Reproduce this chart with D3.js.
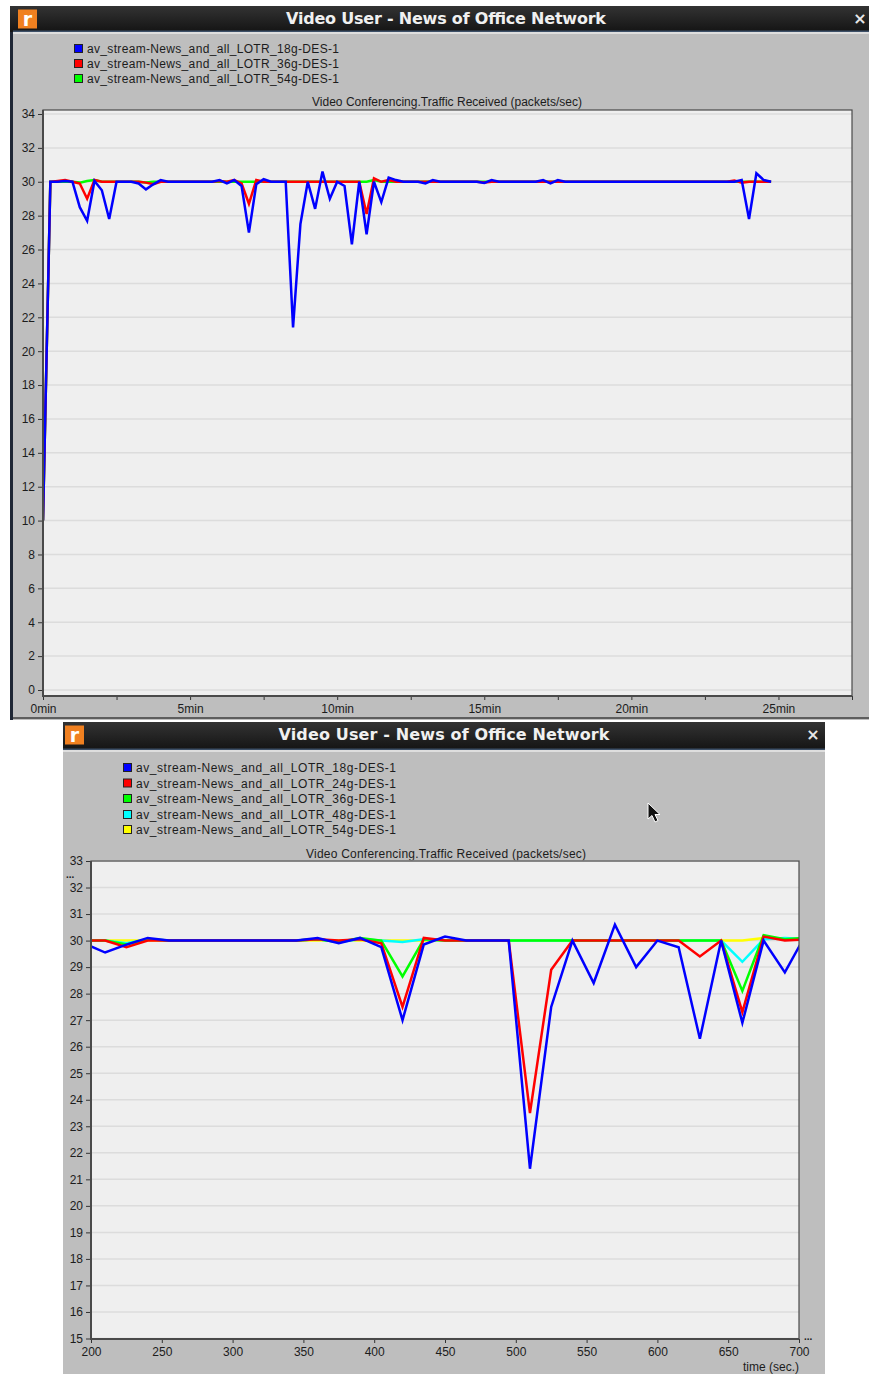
<!DOCTYPE html>
<html>
<head>
<meta charset="utf-8">
<title>Video User - News of Office Network</title>
<script src="https://d3js.org/d3.v7.min.js"></script>
<style>
  html, body { margin: 0; padding: 0; background: #fff; }
  svg { display: block; }
  text { font-family: "Liberation Sans", sans-serif; fill: #1c1c1c; }
</style>
</head>
<body>
<div id="chart"></div>
<script>
// Window title and chart title shared by both captures
const windowTitle = 'Video User - News of Office Network';
const chartTitle = 'Video Conferencing.Traffic Received (packets/sec)';

// Upper chart: whole run, one sample every 15 sec
const fullTime = [0,15,30,45,60,75,90,105,120,135,150,165,180,195,210,225,240,255,270,285,
  300,315,330,345,360,375,390,405,420,435,450,465,480,495,510,525,540,555,570,585,
  600,615,630,645,660,675,690,705,720,735,750,765,780,795,810,825,840,855,870,885,
  900,915,930,945,960,975,990,1005,1020,1035,1050,1065,1080,1095,1110,1125,1140,1155,1170,1185,
  1200,1215,1230,1245,1260,1275,1290,1305,1320,1335,1350,1365,1380,1395,1410,1425,1440,1455,1470,1485];
const full18g = [10,30,30,30.05,30,28.5,27.7,30.05,29.5,27.8,30,30,30,29.9,29.55,29.85,30.1,30,30,30,
  30,30,30,30,30.1,29.9,30.1,29.75,27,29.85,30.15,30,30,30,21.4,27.5,30,28.4,30.6,29,
  30,29.75,26.3,30,26.9,30,28.8,30.25,30.1,30,30,30,29.9,30.1,30,30,30,30,30,30,
  29.93,30.1,30,30,30,30,30,30,30.1,29.9,30.1,30,30,30,30,30,30,30,30,30,
  30,30,30,30,30,30,30,30,30,30,30,30,30,30,30,30.1,27.8,30.5,30.1,30];
const full36g = [10,30,30.05,30.1,30,29.9,29,30.1,30,30,30,30,30,30,29.95,29.85,30,30,30,30,
  30,30,30,30,30.05,30,30.1,29.9,28.7,30.1,30,30,30,30,30,30,30,30,30,30,
  30,30,30,30,28.1,30.2,30,30.1,30,30,30,30,30,30,30,30,30,30,30,30,
  29.95,30,30,30,30,30,30,30,30,30,30,30,30,30,30,30,30,30,30,30,
  30,30,30,30,30,30,30,30,30,30,30,30,30,30,30.08,29.95,30,30,30,30];
const full54g = [10,30,30,30,30,29.95,30.05,30.1,30,30,30,30,30,30,29.95,30,30,30,30,30,
  30,30,30,30,30,30,30,30,30,30,30,30,30,30,30,30,30,30,30,30,
  30,30,30,30,30,30.1,30,30,30,30,30,30,30,30,30,30,30,30,30,30,
  30,30,30,30,30,30,30,30,30,30,30,30,30,30,30,30,30,30,30,30,
  30,30,30,30,30,30,30,30,30,30,30,30,30,30,30,30,30,30,30,30];
const fullYTicks = [0,2,4,6,8,10,12,14,16,18,20,22,24,26,28,30,32,34];
const fullXTicks = [0,150,300,450,600,750,900,1050,1200,1350,1500,1650];
const fullXLabels = ['0min','','5min','','10min','','15min','','20min','','25min',''];

// Lower chart: zoom on 200-700 sec
const zoomTime = [195,210,225,240,255,270,285,300,315,330,345,360,375,390,405,420,435,450,465,480,
  495,510,525,540,555,570,585,600,615,630,645,660,675,690,705];
const zoom18g = [29.9,29.55,29.85,30.1,30,30,30,30,30,30,30,30.1,29.9,30.1,29.75,27,29.85,30.15,30,30,
  30,21.4,27.5,30,28.4,30.6,29,30,29.75,26.3,30,26.9,30,28.8,30.25];
const zoom24g = [30,30,29.75,30,30,30,30,30,30,30,30,30.05,30,30.05,29.9,27.5,30.1,30,30,30,
  30,23.5,28.9,30,30,30,30,30,30,29.4,30,27.3,30.15,30,30.05];
const zoom36g = [30,30,29.85,30.05,30,30,30,30,30,30,30,30.05,29.95,30.1,30,28.65,30.05,30,30,30,
  30,30,30,30,30,30,30,30,30,30,30,28.1,30.2,30.05,30.1];
const zoom48g = [30,30,29.9,30.05,30,30,30,30,30,30,30,30.05,29.95,30.05,30,29.95,30.05,30,30,30,
  30,30,30,30,30,30,30,30,30,30,30,29.2,30.05,30.1,30.05];
const zoom54g = [30,30,30,30,30,30,30,30,30,30,30,30,30,30,30,30,30,30,30,30,
  30,30,30,30,30,30,30,30,30,30,30,30,30.1,30.05,30.05];
const zoomYTicks = [15,16,17,18,19,20,21,22,23,24,25,26,27,28,29,30,31,32,33];
const zoomXTicks = [200,250,300,350,400,450,500,550,600,650,700];

const COLORS = { blue: '#0000ff', red: '#ff0000', green: '#00ff00', cyan: '#00ffff', yellow: '#ffff00' };

const width = 869;
const height = 1374;

const svg = d3.select('#chart')
    .append('svg')
    .attr('width', width)
    .attr('height', height);

const defs = svg.append('defs');
const barGrad = defs.append('linearGradient')
    .attr('id', 'titlebar')
    .attr('x1', 0).attr('x2', 0).attr('y1', 0).attr('y2', 1);
barGrad.append('stop').attr('offset', '0%').attr('stop-color', '#333333');
barGrad.append('stop').attr('offset', '100%').attr('stop-color', '#141414');

// Window frame: dark title bar, icon, close cross and grey panel
function drawWindow(opts) {
    const g = svg.append('g');
    g.append('rect')
        .attr('x', opts.x).attr('y', opts.y + opts.barH)
        .attr('width', opts.w).attr('height', opts.h - opts.barH)
        .attr('fill', '#bebebe');
    if (opts.edge) {
        g.append('rect')
            .attr('x', opts.x).attr('y', opts.y)
            .attr('width', 3).attr('height', opts.h)
            .attr('fill', '#1f2735');
        g.append('rect')
            .attr('x', opts.x + 3).attr('y', opts.y + opts.h - 3)
            .attr('width', opts.w).attr('height', 2)
            .attr('fill', '#5e5e5e');
    }
    g.append('rect')
        .attr('x', opts.x).attr('y', opts.y)
        .attr('width', opts.w).attr('height', opts.barH)
        .attr('fill', 'url(#titlebar)');
    g.append('rect')
        .attr('x', opts.x + (opts.edge ? 3 : 0)).attr('y', opts.y + opts.barH - 1.5)
        .attr('width', opts.w).attr('height', 1.5)
        .attr('fill', '#3d5068');
    g.append('rect')
        .attr('x', opts.x + (opts.edge ? 3 : 0)).attr('y', opts.y + opts.barH)
        .attr('width', opts.w).attr('height', 2)
        .attr('fill', '#dedede');
    g.append('rect')
        .attr('x', opts.iconX).attr('y', opts.y + 3.5)
        .attr('width', 19).attr('height', 19)
        .attr('fill', '#f08020');
    g.append('text')
        .attr('x', opts.iconX + 9.5).attr('y', opts.y + 20)
        .attr('text-anchor', 'middle')
        .style('font-family', '"DejaVu Sans", sans-serif')
        .style('font-weight', 'bold')
        .style('font-size', '19px')
        .style('fill', '#ffffff')
        .text('r');
    g.append('text')
        .attr('x', opts.titleX).attr('y', opts.y + 17.5)
        .attr('text-anchor', 'middle')
        .attr('textLength', opts.titleW)
        .style('font-family', '"DejaVu Sans", sans-serif')
        .style('font-weight', 'bold')
        .style('font-size', '16px')
        .style('fill', '#f0f0f0')
        .text(windowTitle);
    g.append('text')
        .attr('x', opts.closeX).attr('y', opts.y + 18)
        .attr('text-anchor', 'middle')
        .style('font-family', '"DejaVu Sans", sans-serif')
        .style('font-weight', 'bold')
        .style('font-size', '16px')
        .style('fill', '#e8e8e8')
        .text('×');
}

let clipCount = 0;

// One plot: legend, title, axes, grid and the lines
function drawPlot(c) {
    const x = d3.scaleLinear().domain(c.xDomain).range([c.left, c.right]);
    const y = d3.scaleLinear().domain(c.yDomain).range(c.yRange);
    const g = svg.append('g');

    // legend
    c.legend.forEach((d, i) => {
        const ly = c.legendY[i];
        g.append('rect')
            .attr('x', c.legendX + 0.5).attr('y', ly - 4.5)
            .attr('width', 8).attr('height', 8)
            .attr('fill', d.color)
            .attr('stroke', '#222').attr('stroke-width', 1);
        g.append('text')
            .attr('x', c.legendX + 13).attr('y', ly + 4)
            .attr('textLength', c.legendW)
            .style('font-size', '12px')
            .text(d.label);
    });

    g.append('text')
        .attr('x', c.titleX).attr('y', c.titleY)
        .attr('text-anchor', 'middle')
        .attr('textLength', c.titleW)
        .style('font-size', '12px')
        .text(chartTitle);

    // plot area
    g.append('rect')
        .attr('x', c.left).attr('y', c.top)
        .attr('width', c.right - c.left).attr('height', c.bottom - c.top)
        .attr('fill', '#efefef');

    g.append('g').selectAll('line')
        .data(c.yTicks)
        .enter()
        .append('line')
        .attr('x1', c.left).attr('x2', c.right)
        .attr('y1', d => y(d)).attr('y2', d => y(d))
        .attr('stroke', '#dcdcdc').attr('stroke-width', 1.5);

    const clipId = 'plotclip' + (clipCount++);
    defs.append('clipPath').attr('id', clipId)
        .append('rect')
        .attr('x', c.left).attr('y', c.top)
        .attr('width', c.right - c.left).attr('height', c.bottom - c.top);

    const line = d3.line()
        .x((d, i) => x(c.time[i]))
        .y(d => y(d));

    g.append('g').attr('clip-path', `url(#${clipId})`)
        .selectAll('path')
        .data(c.series)
        .enter()
        .append('path')
        .attr('d', d => line(d.values))
        .attr('fill', 'none')
        .attr('stroke', d => d.color)
        .attr('stroke-width', 2.5)
        .attr('stroke-linejoin', 'miter');

    // axes
    const yAxis = d3.axisLeft(y)
        .tickValues(c.yTicks)
        .tickSize(5)
        .tickPadding(3)
        .tickFormat(d3.format('d'));
    const yG = g.append('g')
        .attr('transform', `translate(${c.left},0)`)
        .call(yAxis);

    const xAxis = d3.axisBottom(x)
        .tickValues(c.xTicks)
        .tickSizeOuter(0)
        .tickSizeInner(4)
        .tickPadding(4.5)
        .tickFormat((d, i) => c.xLabels ? c.xLabels[i] : d);
    const xG = g.append('g')
        .attr('transform', `translate(0,${c.bottom})`)
        .call(xAxis);

    [yG, xG].forEach(a => {
        a.selectAll('text').style('font-size', '12px').style('font-family', '"Liberation Sans", sans-serif');
        a.selectAll('line').attr('stroke', '#333');
        a.select('.domain').remove();
    });

    // thin frame, heavier left and bottom axis lines
    g.append('rect')
        .attr('x', c.left).attr('y', c.top)
        .attr('width', c.right - c.left).attr('height', c.bottom - c.top)
        .attr('fill', 'none')
        .attr('stroke', '#4a4a4a').attr('stroke-width', 1.2);
    g.append('path')
        .attr('d', d3.line()([[c.left, c.top], [c.left, c.bottom], [c.right, c.bottom]]))
        .attr('fill', 'none')
        .attr('stroke', '#4a4a4a').attr('stroke-width', 2);
}

drawWindow({ x: 10, y: 6, w: 859, h: 714, barH: 26, iconX: 18, titleX: 446, titleW: 320, closeX: 860, edge: true });
drawWindow({ x: 63, y: 722, w: 762, h: 652, barH: 28, iconX: 65, titleX: 444, titleW: 331, closeX: 813, edge: false });

drawPlot({
    left: 43, right: 852, top: 110, bottom: 696,
    xDomain: [0, 1650], yDomain: [0, 34], yRange: [690, 114],
    time: fullTime,
    series: [
        { color: COLORS.green, values: full54g },
        { color: COLORS.red, values: full36g },
        { color: COLORS.blue, values: full18g }
    ],
    legend: [
        { color: COLORS.blue, label: 'av_stream-News_and_all_LOTR_18g-DES-1' },
        { color: COLORS.red, label: 'av_stream-News_and_all_LOTR_36g-DES-1' },
        { color: COLORS.green, label: 'av_stream-News_and_all_LOTR_54g-DES-1' }
    ],
    legendX: 74, legendY: [49, 64, 79], legendW: 252,
    titleX: 447, titleY: 106, titleW: 270,
    yTicks: fullYTicks,
    xTicks: fullXTicks,
    xLabels: fullXLabels
});

drawPlot({
    left: 91, right: 799, top: 861, bottom: 1339,
    xDomain: [200, 700], yDomain: [15, 33], yRange: [1338.5, 861],
    time: zoomTime,
    series: [
        { color: COLORS.yellow, values: zoom54g },
        { color: COLORS.cyan, values: zoom48g },
        { color: COLORS.green, values: zoom36g },
        { color: COLORS.red, values: zoom24g },
        { color: COLORS.blue, values: zoom18g }
    ],
    legend: [
        { color: COLORS.blue, label: 'av_stream-News_and_all_LOTR_18g-DES-1' },
        { color: COLORS.red, label: 'av_stream-News_and_all_LOTR_24g-DES-1' },
        { color: COLORS.green, label: 'av_stream-News_and_all_LOTR_36g-DES-1' },
        { color: COLORS.cyan, label: 'av_stream-News_and_all_LOTR_48g-DES-1' },
        { color: COLORS.yellow, label: 'av_stream-News_and_all_LOTR_54g-DES-1' }
    ],
    legendX: 123, legendY: [768, 783.5, 799, 815, 830], legendW: 260,
    titleX: 446, titleY: 858, titleW: 280,
    yTicks: zoomYTicks,
    xTicks: zoomXTicks,
    xLabels: null
});

// Small extras of the lower window: clipped-range dots, x unit, mouse pointer
svg.append('text').attr('x', 66).attr('y', 878).style('font-size', '10px').style('font-weight', 'bold').text('...');
svg.append('text').attr('x', 804).attr('y', 1340).style('font-size', '10px').style('font-weight', 'bold').text('...');
svg.append('text').attr('x', 743).attr('y', 1370.5).style('font-size', '12px').text('time (sec.)');
svg.append('path')
    .attr('transform', 'translate(648,803)')
    .attr('d', 'M0,0 L0,16 L4,12.5 L7,19 L10,17.5 L7,11.5 L12,11.5 Z')
    .attr('fill', '#111')
    .attr('stroke', '#fff')
    .attr('stroke-width', 1);
</script>
</body>
</html>
